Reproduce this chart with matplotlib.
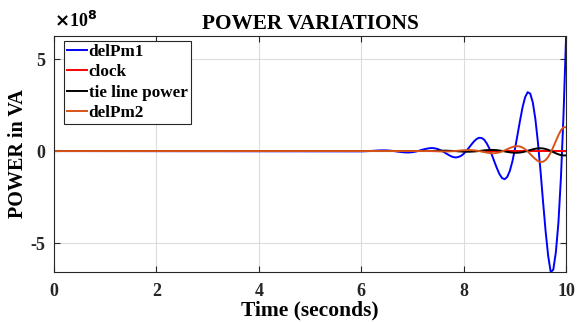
import numpy as np
import matplotlib
matplotlib.use("Agg")
import matplotlib.pyplot as plt
from matplotlib.ticker import FuncFormatter

# ---- data (values in units of 1e8 VA), sampled every 0.05 s from 6.00 to 10.00 s ----
t_start = 6.00
t_step = 0.05
delPm1 = [-0.017, -0.014, -0.009, -0.002, 0.007, 0.016, 0.025, 0.032, 0.036, 0.037,
          0.033, 0.025, 0.011, -0.006, -0.025, -0.044, -0.061, -0.073, -0.078, -0.075,
          -0.061, -0.037, -0.005, 0.034, 0.075, 0.11, 0.14, 0.16, 0.16, 0.14,
          0.10, 0.042, -0.035, -0.12, -0.20, -0.28, -0.33, -0.35, -0.32, -0.26,
          -0.15, 0.00, 0.17, 0.35, 0.52, 0.65, 0.72, 0.71, 0.62, 0.42,
          0.15, -0.20, -0.58, -0.94, -1.26, -1.47, -1.53, -1.41, -1.09, -0.58,
          0.09, 0.86, 1.65, 2.38, 2.93, 3.20, 3.12, 2.64, 1.74, 0.47,
          -1.07, -2.75, -4.36, -5.70, -6.58, -6.45, -5.50, -3.90, -1.40, 2.00,
          6.25]
clock = [0.0] * 81
tie_line_power = [0.0] * 30 + [
          0.015, 0.019, 0.021, 0.020, 0.016, 0.010, 0.003, -0.006, -0.016, -0.025,
          -0.032, -0.036, -0.037, -0.032, -0.024, -0.012, 0.003, 0.019, 0.035, 0.048,
          0.056, 0.059, 0.056, 0.045, 0.028, 0.006, -0.019, -0.045, -0.068, -0.085,
          -0.094, -0.093, -0.081, -0.058, -0.026, 0.013, 0.054, 0.093, 0.125, 0.146,
          0.151, 0.140, 0.111, 0.065, 0.008, -0.057, -0.122, -0.179, -0.221, -0.241,
          -0.236]
delPm2 = [0.0] * 27 + [0.002, -0.004, -0.010,
          -0.016, -0.020, -0.023, -0.023, -0.020, -0.014, -0.006, 0.006, 0.018, 0.031,
          0.042, 0.050, 0.052, 0.049, 0.039, 0.022, -0.001, -0.028, -0.057, -0.084,
          -0.105, -0.117, -0.116, -0.100, -0.068, -0.022, 0.036, 0.099, 0.163, 0.217,
          0.254, 0.265, 0.244, 0.189, 0.099, -0.021, -0.160, -0.305, -0.438, -0.541,
          -0.594, -0.580, -0.490, -0.321, -0.079, 0.219, 0.544, 0.861, 1.13, 1.30,
          1.29]
series_names = ["delPm1", "clock", "tie line power", "delPm2"]
series_colors = ["#0000FF", "#FF0000", "#000000", "#D95319"]
x_ticks = [0, 2, 4, 6, 8, 10]
y_ticks = [-5, 0, 5]
scale = 1e8

n = len(delPm1)
t_tail = np.round(t_start + t_step * np.arange(n), 2)
t = np.concatenate([[0.0], t_tail])

def full(v):
    return np.concatenate([[0.0], np.asarray(v, dtype=float)]) * scale

plt.rcParams['font.family'] = ['Liberation Serif', 'DejaVu Serif']
plt.rcParams['font.weight'] = 'bold'

fig = plt.figure(figsize=(5.78, 3.22), dpi=100)
ax = fig.add_axes([0.0934, 0.155, 0.886, 0.733])

for vals, name, col in zip([delPm1, clock, tie_line_power, delPm2], series_names, series_colors):
    ax.plot(t, full(vals), color=col, lw=1.4, label=name)

ax.set_xlim(0, 10)
ax.set_ylim(-6.58 * scale, 6.25 * scale)
ax.set_xticks(x_ticks)
ax.set_yticks([v * scale for v in y_ticks])
ax.yaxis.set_major_formatter(FuncFormatter(lambda v, p: f"{v/scale:.0f}".replace("\u2212", "-")))
ax.grid(True, color='#dcdcdc', lw=0.8)
ax.set_axisbelow(True)
ax.tick_params(direction='in', top=True, right=True, length=4, width=0.8,
               labelsize=13, colors='#262626')
ax.tick_params(axis='x', pad=8)
ax.tick_params(axis='y', pad=6)
for lab in ax.get_xticklabels() + ax.get_yticklabels():
    lab.set_fontweight('bold')
for s in ax.spines.values():
    s.set_color('#262626')
    s.set_linewidth(0.8)

ax.set_title("POWER VARIATIONS", fontsize=15.3, fontweight='bold', pad=5)
ax.set_xlabel("Time (seconds)", fontsize=15.5, fontweight='bold', labelpad=0)
ax.set_ylabel("POWER in VA", fontsize=14.5, fontweight='bold', labelpad=2)
ax.text(0.0, 1.02, r"$\times$10$^{8}$", transform=ax.transAxes, fontsize=13,
        fontweight='bold', ha='left', va='bottom')

leg = ax.legend(loc='upper left', bbox_to_anchor=(0.0195, 0.979),
                prop={'weight': 'bold', 'size': 12.3}, handlelength=1.15, handletextpad=0.12,
                borderpad=0.18, labelspacing=0.25, borderaxespad=0.0, fancybox=False,
                framealpha=1, edgecolor='#262626')
leg.get_frame().set_linewidth(0.8)

fig.savefig("out.png", dpi=100)
